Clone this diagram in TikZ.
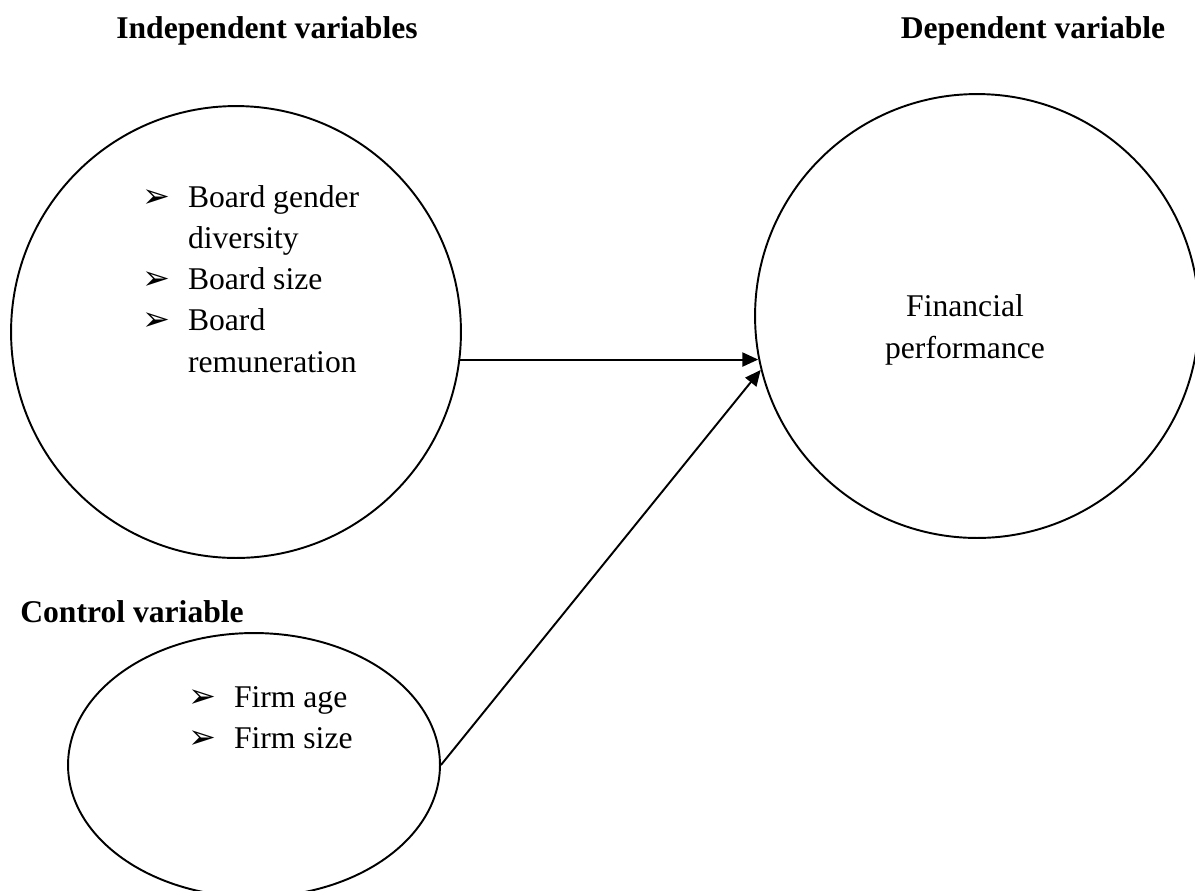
\documentclass[tikz,border=0pt]{standalone}
\usepackage{fontspec}
\setmainfont{Liberation Serif}
\newfontfamily\bulfont{DejaVu Sans}
\usetikzlibrary{arrows.meta, shapes.geometric}
\newcommand{\bul}{\makebox[26pt][l]{\bulfont\fontsize{19}{19}\selectfont ➢}}

\begin{document}
\begin{tikzpicture}[
    x=0.02cm, y=-0.02cm,
    every node/.style={font=\fontsize{18}{23.5}\selectfont},
    heading/.style={font=\fontsize{18}{23.5}\selectfont\bfseries, inner sep=0pt, anchor=base},
    circ/.style={draw, ellipse, line width=1.1pt, inner sep=0pt},
    items/.style={inner sep=0pt, anchor=base west},
    >={Triangle[length=9pt, width=8pt]}
]
\useasboundingbox (0,0) rectangle (1195,890);

% Headings
\node[heading] (indepHead) at (267, 38) {Independent variables};
\node[heading] (depHead) at (1033, 38) {Dependent variable};
\node[heading, anchor=base west] (ctrlHead) at (20, 622) {Control variable};

% Circles
\node[circ, minimum width=9cm, minimum height=9.04cm] (indep) at (236, 332) {};
\node[circ, minimum width=8.88cm, minimum height=8.88cm] (dep) at (977, 316) {};
\node[circ, minimum width=7.44cm, minimum height=5.28cm] (ctrl) at (254, 765) {};

% Texts
\node[items] (indepList) at (142, 207) {\begin{tabular}[t]{@{}l@{}l@{}}
    \bul & Board gender\\
         & diversity\\
    \bul & Board size\\
    \bul & Board\\
         & remuneration
  \end{tabular}};
\node[items] (ctrlList) at (188, 707) {\begin{tabular}[t]{@{}l@{}l@{}}
    \bul & Firm age\\
    \bul & Firm size
  \end{tabular}};
\node[align=center, inner sep=0pt] (depText) at (965, 330) {Financial\\ performance};

% Arrows
\draw[->, line width=1.1pt] (indep.-7) -- (dep.191 |- indep.-7);
\draw[->, line width=1.1pt] (ctrl.east) -- (dep.194);
\end{tikzpicture}
\end{document}
